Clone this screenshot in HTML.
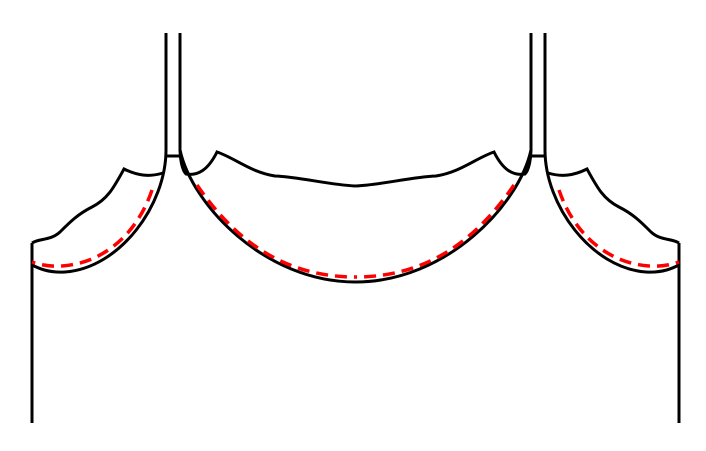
<!DOCTYPE html>
<html><head><style>html,body{margin:0;padding:0;background:#fff;}svg{display:block}</style></head>
<body>
<svg width="706" height="451" viewBox="0 0 706 451" xmlns="http://www.w3.org/2000/svg">
<defs>
<g id="half" fill="none" stroke-width="3">
  <path d="M32,423 L32,243" stroke="#000"/>
  <path d="M166,33 L166,150 M180,33 L180,150 M166,156 L180,156" stroke="#000"/>
  <path d="M32,243 C40,238 50,241 60,232 C70,222 78,214 92,207 C108,199 114,187 124,169 C138,176 150,177 163,173" stroke="#000"/>
  <path d="M166,150 C166,205 120,268 65,272 C48,273 38,268 32,265" stroke="#000"/>
  <path d="M152,190 C138,232 105,263 62,266 C48,267 38,264 32,262" stroke="#f00" stroke-width="3.5" stroke-dasharray="12,7"/>
  <path d="M180,150 C180,158 182,170 186,174 C198,176 208,170 217,152 C235,158 250,172 275,176 C300,177 330,185 355.5,186" stroke="#000"/>
  <path d="M180,150 C192,205 265,282 355.5,282" stroke="#000"/>
  <path d="M197,185 C228,230 275,277 355.5,277" stroke="#f00" stroke-width="3.5" stroke-dasharray="12,7"/>
</g>
</defs>
<use href="#half"/>
<use href="#half" transform="translate(711,0) scale(-1,1)"/>
</svg>
</body></html>
